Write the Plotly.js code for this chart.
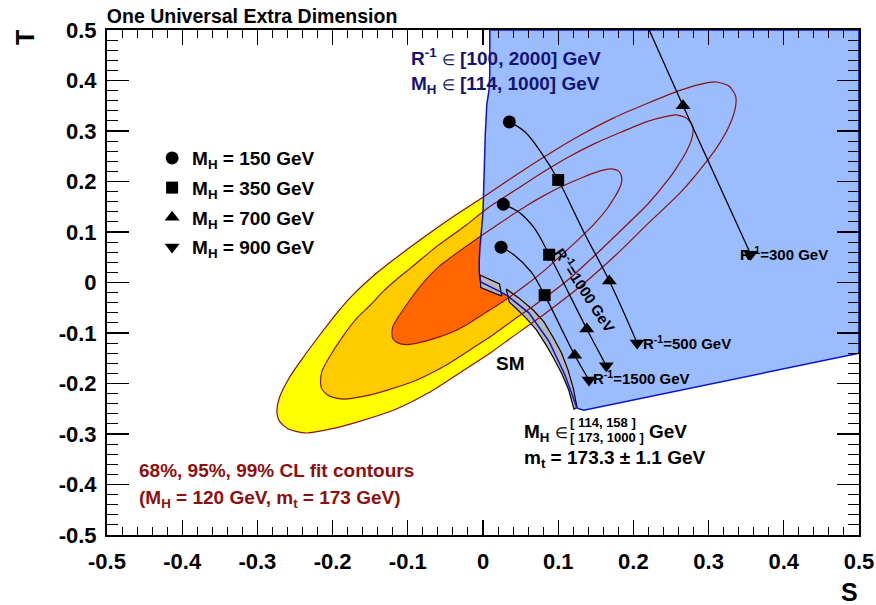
<!DOCTYPE html>
<html>
<head>
<meta charset="utf-8">
<script src="https://cdn.plot.ly/plotly-3.0.1.min.js"></script>
<style>
  html, body { margin: 0; padding: 0; background: #fff; }
  #chart { width: 876px; height: 605px; }
</style>
</head>
<body>
<div id="chart"></div>
<script>
// fit contours (99%, 95%, 68% CL)
var outerS = [0.000, 0.044, 0.086, 0.130, 0.174, 0.219, 0.263, 0.290, 0.310, 0.327, 0.336, 0.335, 0.326, 0.313, 0.299, 0.263, 0.219, 0.177, 0.130, 0.084, 0.037, 0.011, -0.029, -0.073, -0.116, -0.162, -0.202, -0.235, -0.259, -0.271, -0.274, -0.271, -0.257, -0.238, -0.215, -0.193, -0.172, -0.149, -0.126, -0.082, -0.036, 0.000];
var outerT = [0.169, 0.213, 0.253, 0.292, 0.326, 0.355, 0.381, 0.393, 0.397, 0.389, 0.369, 0.342, 0.306, 0.272, 0.243, 0.179, 0.116, 0.055, -0.007, -0.060, -0.110, -0.138, -0.177, -0.219, -0.251, -0.274, -0.290, -0.298, -0.290, -0.274, -0.258, -0.229, -0.187, -0.146, -0.100, -0.058, -0.023, 0.009, 0.037, 0.086, 0.134, 0.169];
var midS = [0.006, 0.042, 0.076, 0.112, 0.147, 0.184, 0.219, 0.241, 0.257, 0.271, 0.279, 0.278, 0.270, 0.259, 0.248, 0.219, 0.184, 0.149, 0.112, 0.074, 0.036, 0.015, -0.018, -0.053, -0.088, -0.125, -0.158, -0.185, -0.204, -0.214, -0.216, -0.214, -0.202, -0.187, -0.168, -0.150, -0.133, -0.115, -0.096, -0.061, -0.023, 0.006];
var midT = [0.147, 0.182, 0.215, 0.247, 0.274, 0.298, 0.319, 0.328, 0.332, 0.325, 0.309, 0.287, 0.258, 0.231, 0.207, 0.155, 0.104, 0.054, 0.004, -0.039, -0.079, -0.102, -0.134, -0.167, -0.193, -0.212, -0.225, -0.231, -0.225, -0.212, -0.199, -0.175, -0.142, -0.108, -0.071, -0.045, -0.018, 0.006, 0.029, 0.072, 0.113, 0.147];
var innS = [0.016, 0.038, 0.059, 0.081, 0.103, 0.126, 0.148, 0.161, 0.171, 0.180, 0.184, 0.184, 0.179, 0.172, 0.166, 0.148, 0.126, 0.104, 0.081, 0.058, 0.035, 0.021, 0.001, -0.021, -0.042, -0.065, -0.085, -0.102, -0.114, -0.120, -0.121, -0.120, -0.112, -0.103, -0.092, -0.081, -0.070, -0.059, -0.047, -0.025, -0.002, 0.016];
var innT = [0.111, 0.133, 0.153, 0.172, 0.189, 0.204, 0.217, 0.223, 0.225, 0.221, 0.211, 0.197, 0.179, 0.162, 0.148, 0.116, 0.084, 0.054, 0.023, -0.004, -0.029, -0.043, -0.062, -0.083, -0.099, -0.111, -0.119, -0.123, -0.119, -0.111, -0.103, -0.088, -0.067, -0.047, -0.024, -0.003, 0.015, 0.031, 0.045, 0.069, 0.093, 0.111];

// UED allowed region
var blueS = [0.009, 0.5, 0.5, 0.387, 0.254, 0.157, 0.134, 0.125, 0.109, 0.088, 0.061, 0.033, 0.024, -0.003, -0.005, -0.005, -0.004, 0.000, 0.001, 0.003, 0.005, 0.008, 0.009, 0.009];
var blueT = [0.5, 0.5, -0.140, -0.175, -0.217, -0.247, -0.253, -0.249, -0.183, -0.117, -0.060, -0.027, -0.019, 0.001, 0.019, 0.045, 0.070, 0.138, 0.203, 0.292, 0.352, 0.381, 0.411, 0.5];

// SM prediction bands
var sm1S = [-0.004, 0.022, 0.025, -0.003, -0.004];
var sm1T = [0.015, -0.003, -0.027, -0.010, 0.015];
var sm2S = [0.031, 0.048, 0.067, 0.081, 0.093, 0.104, 0.113, 0.120, 0.125, 0.121, 0.114, 0.105, 0.094, 0.084, 0.071, 0.057, 0.044, 0.035, 0.031];
var sm2T = [-0.013, -0.031, -0.055, -0.078, -0.108, -0.138, -0.173, -0.209, -0.247, -0.251, -0.213, -0.181, -0.150, -0.124, -0.094, -0.070, -0.051, -0.039, -0.013];

// UED curves for fixed R^-1
var r300S = [0.221, 0.266, 0.356];
var r300T = [0.500, 0.350, 0.056];
var r500S = [0.035, 0.056, 0.077, 0.100, 0.134, 0.168, 0.205];
var r500T = [0.318, 0.298, 0.258, 0.203, 0.100, 0.003, -0.120];
var r1000S = [0.027, 0.047, 0.068, 0.088, 0.138, 0.164];
var r1000T = [0.155, 0.140, 0.108, 0.055, -0.092, -0.165];
var r1500S = [0.024, 0.041, 0.064, 0.082, 0.122, 0.141];
var r1500T = [0.070, 0.055, 0.021, -0.025, -0.144, -0.193];

// markers per Higgs mass, ordered R^-1 = 300, 500, 1000, 1500 GeV
var mh150S = [null, 0.035, 0.027, 0.024];
var mh150T = [null, 0.318, 0.155, 0.070];
var mh350S = [null, 0.100, 0.088, 0.082];
var mh350T = [null, 0.203, 0.055, -0.025];
var mh700S = [0.266, 0.168, 0.138, 0.122];
var mh700T = [0.350, 0.003, -0.092, -0.144];
var mh900S = [0.356, 0.205, 0.164, 0.141];
var mh900T = [0.056, -0.120, -0.165, -0.193];

var tickVals = [-0.5, -0.4, -0.3, -0.2, -0.1, 0, 0.1, 0.2, 0.3, 0.4, 0.5];
var tickText = ["-0.5", "-0.4", "-0.3", "-0.2", "-0.1", "0", "0.1", "0.2", "0.3", "0.4", "0.5"];

var FONT = "Liberation Sans, Arial, Helvetica, sans-serif";
var DARKRED = "#8c1010";
var IN = "<span style='font-size:15px;font-weight:normal'>\u2208</span>";

function area(x, y, fill) {
  return { x: x, y: y, mode: "lines", fill: "toself", fillcolor: fill,
    line: { width: 0, shape: "spline", smoothing: 0.7 }, showlegend: false, hoverinfo: "skip" };
}
function outline(x, y, color, w, shape) {
  return { x: x, y: y, mode: "lines", line: { color: color, width: w, shape: shape || "linear", smoothing: 0.7 },
    showlegend: false, hoverinfo: "skip" };
}
function curve(x, y) {
  return { x: x, y: y, mode: "lines", line: { color: "black", width: 1.3, shape: "spline", smoothing: 1 },
    showlegend: false, hoverinfo: "skip" };
}
function marks(x, y, sym, size, name) {
  return { x: x, y: y, mode: "markers", name: name, legendgroup: name,
    marker: { symbol: sym, size: size, color: "black" }, hoverinfo: "skip" };
}

var traces = [
  area(outerS, outerT, "#ffff00"),
  area(midS, midT, "#ffcc00"),
  area(innS, innT, "#ff6600"),
  { x: blueS, y: blueT, mode: "lines", fill: "toself", fillcolor: "#9bbcfd",
    line: { width: 0 }, showlegend: false, hoverinfo: "skip" },
  { x: sm1S, y: sm1T, mode: "lines", fill: "toself", fillcolor: "#b8b8b8",
    line: { color: "black", width: 1.2 }, showlegend: false, hoverinfo: "skip" },
  { x: sm2S, y: sm2T, mode: "lines", fill: "toself", fillcolor: "#b8b8b8",
    line: { color: "black", width: 1.2 }, showlegend: false, hoverinfo: "skip" },
  outline(outerS, outerT, DARKRED, 1.2, "spline"),
  outline(midS, midT, DARKRED, 1.2, "spline"),
  outline(innS, innT, DARKRED, 1.2, "spline"),
  outline(blueS, blueT, "#0a14c8", 1.5),
  curve(r300S, r300T),
  curve(r500S, r500T),
  curve(r1000S, r1000T),
  curve(r1500S, r1500T),
  marks(mh150S, mh150T, "circle", 13, "M<sub>H</sub> = 150 GeV"),
  marks(mh350S, mh350T, "square", 12, "M<sub>H</sub> = 350 GeV"),
  marks(mh700S, mh700T, "triangle-up", 13, "M<sub>H</sub> = 700 GeV"),
  marks(mh900S, mh900T, "triangle-down", 13, "M<sub>H</sub> = 900 GeV")
];

function ann(text, x, y, size, color, opts) {
  var a = { text: text, x: x, y: y, xref: "x", yref: "y", showarrow: false,
    xanchor: "left", yanchor: "middle",
    font: { family: FONT, size: size, color: color, weight: "bold" } };
  for (var k in opts) a[k] = opts[k];
  return a;
}

var annotations = [
  ann("T", -0.109, 0.984, 25, "black", { xref: "paper", yref: "paper", xanchor: "center", textangle: -90 }),
  ann("S", 0.988, -0.113, 25, "black", { xref: "paper", yref: "paper", xanchor: "center" }),
  ann("R<sup>-1</sup> " + IN + " [100, 2000] GeV", -0.098, 0.446, 19, "#141470"),
  ann("M<sub>H</sub> " + IN + " [114, 1000] GeV", -0.098, 0.392, 19, "#141470"),
  ann("68%, 95%, 99% CL fit contours", -0.460, -0.373, 19, DARKRED),
  ann("(M<sub>H</sub> = 120 GeV, m<sub>t</sub> = 173 GeV)", -0.460, -0.428, 19, DARKRED),
  ann("SM", 0.037, -0.161, 19, "black", { xanchor: "center" }),
  ann("M<sub>H</sub> " + IN, 0.052, -0.298, 19, "black"),
  ann("[ 114, 158 ]", 0.113, -0.278, 13, "black"),
  ann("[ 173, 1000 ]", 0.113, -0.307, 13, "black"),
  ann("GeV", 0.218, -0.296, 19, "black"),
  ann("m<sub>t</sub> = 173.3 \u00b1 1.1 GeV", 0.052, -0.350, 19, "black"),
  ann("R<sup>-1</sup>=300 GeV", 0.339, 0.058, 15, "black"),
  ann("R<sup>-1</sup>=500 GeV", 0.210, -0.118, 15, "black"),
  ann("R<sup>-1</sup>=1500 GeV", 0.144, -0.189, 15, "black"),
  ann("R<sup>-1</sup>=1000 GeV", 0.137, -0.013, 15, "black", { xanchor: "center", textangle: 57 })
];

function axis(majorLen, minorLen) {
  return {
    range: [-0.5, 0.5], tickmode: "array", tickvals: tickVals, ticktext: tickText,
    ticks: "inside", ticklen: majorLen, tickwidth: 1.3, tickcolor: "black",
    minor: { tickmode: "linear", tick0: -0.5, dtick: 0.02, ticks: "inside", ticklen: minorLen,
      tickwidth: 1, tickcolor: "black", showgrid: false },
    showline: true, linewidth: 2, linecolor: "black", mirror: "allticks",
    showgrid: false, zeroline: false, fixedrange: true,
    tickfont: { family: FONT, size: 22, color: "black", weight: "bold" }
  };
}

var xaxis = axis(15, 8);
xaxis.ticklabelstandoff = 6;
var yaxis = axis(22, 11);
yaxis.ticklabelstandoff = 4;

var layout = {
  width: 876, height: 605,
  margin: { l: 107, r: 17, t: 30, b: 70 },
  paper_bgcolor: "white", plot_bgcolor: "white",
  title: { text: "One Universal Extra Dimension", x: 0.122, xanchor: "left", y: 0.974, yanchor: "middle",
    font: { family: FONT, size: 19.5, color: "black", weight: "bold" } },
  xaxis: xaxis, yaxis: yaxis,
  showlegend: true,
  legend: { x: 0.06, y: 0.784, xanchor: "left", yanchor: "top", bgcolor: "rgba(0,0,0,0)",
    traceorder: "grouped", tracegroupgap: 2,
    font: { family: FONT, size: 19, color: "black", weight: "bold" } },
  annotations: annotations,
  hovermode: false
};

Plotly.newPlot("chart", traces, layout, { displayModeBar: false, staticPlot: true });
</script>
</body>
</html>
